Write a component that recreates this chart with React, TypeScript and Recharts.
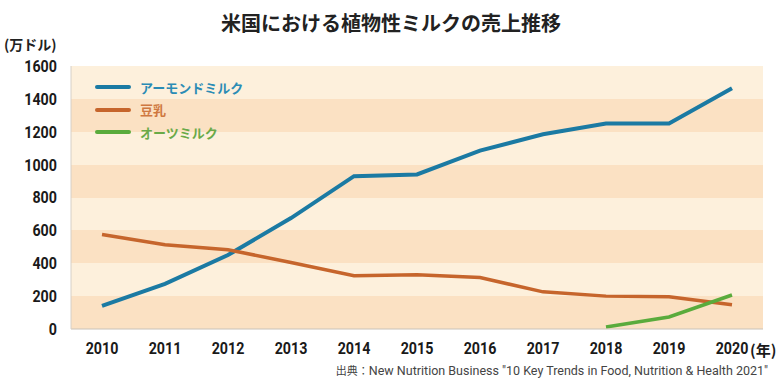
import React from "react";
import {
  LineChart,
  Line,
  XAxis,
  YAxis,
  CartesianGrid,
  Legend,
} from "recharts";

const years = ["2010", "2011", "2012", "2013", "2014", "2015", "2016", "2017", "2018", "2019", "2020"];
const almond = [140, 275, 450, 675, 930, 940, 1085, 1185, 1250, 1250, 1465];
const soy = [575, 513, 482, 405, 324, 330, 313, 226, 200, 196, 147];
const oat = [null, null, null, null, null, null, null, null, 12, 73, 207];
const yTicks = [0, 200, 400, 600, 800, 1000, 1200, 1400, 1600];

const seriesInfo = [
  { key: "almond", name: "アーモンドミルク", color: "#1b7aa3", text: "#2b8cb5" },
  { key: "soy", name: "豆乳", color: "#c6652c", text: "#cf7840" },
  { key: "oat", name: "オーツミルク", color: "#5aab3c", text: "#6aaa48" },
];

const data = years.map((year, i) => ({
  year,
  almond: almond[i],
  soy: soy[i],
  oat: oat[i],
}));

const cjk = "'Noto Sans CJK JP', 'Noto Sans', sans-serif";
const num = "Roboto, 'Liberation Sans', sans-serif";

// condensed bold numbers, squeezed horizontally like the original
function NarrowTick(props: any) {
  const { x, y, payload, textAnchor, axis } = props;
  return (
    <text
      transform={`translate(${x},${y}) scale(0.84,1)`}
      textAnchor={textAnchor}
      dominantBaseline={axis === "y" ? "central" : "hanging"}
      fill="#1a1a1a"
      fontSize={17}
      fontWeight={700}
      fontFamily={num}
    >
      {payload.value}
    </text>
  );
}

function LegendBox() {
  return (
    <div style={{ fontFamily: cjk }}>
      {seriesInfo.map((s) => (
        <div
          key={s.key}
          style={{ display: "flex", alignItems: "center", height: 22.5 }}
        >
          <span
            style={{
              display: "inline-block",
              width: 36,
              height: 4,
              borderRadius: 2,
              background: s.color,
              marginRight: 9,
            }}
          />
          <span style={{ color: s.text, fontSize: 13, fontWeight: 700 }}>
            {s.name}
          </span>
        </div>
      ))}
    </div>
  );
}

export default function App() {
  return (
    <div
      style={{
        position: "absolute",
        left: 0,
        top: 0,
        width: 782,
        height: 390,
        background: "#fff",
        overflow: "hidden",
      }}
    >
      <div
        style={{
          position: "absolute",
          left: 0,
          width: 782,
          top: 8,
          textAlign: "center",
          fontFamily: cjk,
          fontWeight: 700,
          fontSize: 20,
          color: "#222",
        }}
      >
        米国における植物性ミルクの売上推移
      </div>
      <div
        style={{
          position: "absolute",
          left: 4,
          top: 34,
          fontFamily: cjk,
          fontWeight: 700,
          fontSize: 14,
          color: "#222",
        }}
      >
        (万ドル)
      </div>
      <LineChart
        width={782}
        height={390}
        data={data}
        margin={{ top: 66, right: 19, bottom: 31, left: 0 }}
      >
        <CartesianGrid
          vertical={false}
          stroke="none"
          horizontalFill={["#fdf0dc", "#fbe1c3"]}
          fillOpacity={1}
        />
        <XAxis
          dataKey="year"
          padding={{ left: 31, right: 31 }}
          axisLine={{ stroke: "#c9c2b8" }}
          tickLine={false}
          tickSize={0}
          tickMargin={12}
          height={30}
          tick={(p: any) => <NarrowTick {...p} axis="x" />}
        />
        <YAxis
          domain={[0, 1600]}
          ticks={yTicks}
          width={71}
          axisLine={{ stroke: "#d6d0c8" }}
          tickLine={false}
          tickSize={0}
          tickMargin={14}
          tick={(p: any) => <NarrowTick {...p} axis="y" />}
        />
        <Legend
          layout="horizontal"
          verticalAlign="middle"
          align="center"
          wrapperStyle={{ top: 76, left: 95, width: 200, height: 70 }}
          content={() => <LegendBox />}
        />
        {seriesInfo.map((s) => (
          <Line
            key={s.key}
            type="linear"
            dataKey={s.key}
            name={s.name}
            stroke={s.color}
            strokeWidth={s.key === "almond" ? 4 : 3.5}
            dot={false}
            activeDot={false}
            connectNulls={false}
            isAnimationActive={false}
          />
        ))}
      </LineChart>
      <div
        style={{
          position: "absolute",
          left: 750,
          top: 339,
          fontFamily: cjk,
          fontWeight: 700,
          fontSize: 15,
          color: "#1a1a1a",
        }}
      >
        (年)
      </div>
      <div
        style={{
          position: "absolute",
          right: 14,
          top: 362,
          fontFamily: num,
          fontSize: 12.5,
          color: "#444",
          whiteSpace: "nowrap",
        }}
      >
        <span style={{ fontFamily: cjk, fontSize: 11 }}>出典：</span>
        New Nutrition Business "10 Key Trends in Food, Nutrition &amp; Health 2021"
      </div>
    </div>
  );
}
